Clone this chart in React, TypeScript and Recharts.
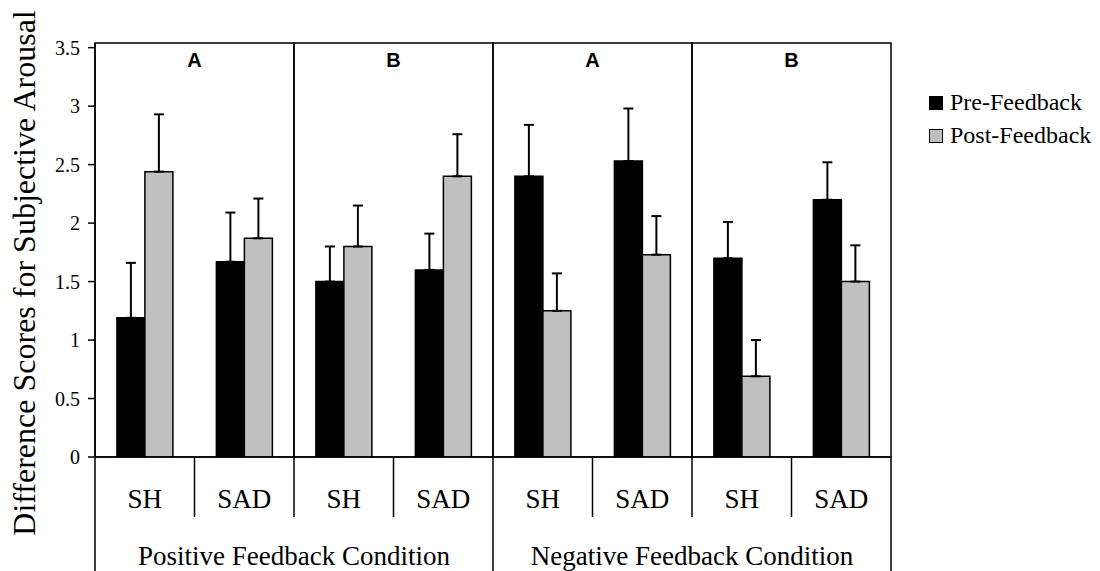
import { Bar, BarChart, ErrorBar, Label, Legend, ReferenceArea, XAxis, YAxis } from "recharts";

const SERIF = '"Liberation Serif", "Times New Roman", serif';
const SANS = '"Liberation Sans", Arial, sans-serif';

const CATEGORY_KEYS = [
  "pos-a-sh",
  "pos-a-sad",
  "pos-b-sh",
  "pos-b-sad",
  "neg-a-sh",
  "neg-a-sad",
  "neg-b-sh",
  "neg-b-sad",
];
const CATEGORY_LABELS = ["SH", "SAD", "SH", "SAD", "SH", "SAD", "SH", "SAD"];
const PANEL_LABELS = ["A", "B", "A", "B"];
const CONDITION_LABELS = ["Positive Feedback Condition", "Negative Feedback Condition"];

const PRE_FEEDBACK = [1.19, 1.67, 1.5, 1.6, 2.4, 2.53, 1.7, 2.2];
const PRE_ERROR = [0.47, 0.42, 0.3, 0.31, 0.44, 0.45, 0.31, 0.32];
const POST_FEEDBACK = [2.44, 1.87, 1.8, 2.4, 1.25, 1.73, 0.69, 1.5];
const POST_ERROR = [0.49, 0.34, 0.35, 0.36, 0.32, 0.33, 0.31, 0.31];

const Y_TICKS = [0, 0.5, 1, 1.5, 2, 2.5, 3, 3.5];

const WIDTH = 1100;
const HEIGHT = 571;
const MARGIN = { top: 43, right: 209, bottom: 0, left: 0 };
const Y_AXIS_W = 95;
const X_AXIS_H = 114;
const BAND = (WIDTH - MARGIN.left - MARGIN.right - Y_AXIS_W) / CATEGORY_KEYS.length;

const data = CATEGORY_KEYS.map((key, i) => ({
  key,
  pre: PRE_FEEDBACK[i],
  post: POST_FEEDBACK[i],
  preErr: [0, PRE_ERROR[i]],
  postErr: [0, POST_ERROR[i]],
}));

// category names, table cell borders and the condition labels under the axis
function BottomTick(props: any) {
  const { x, y, index } = props;
  const half = BAND / 2;
  const last = index % 4 === 3;
  return (
    <g>
      <text x={x} y={y + 51} textAnchor="middle" fontSize={27} fontFamily={SERIF} fill="#000">
        {CATEGORY_LABELS[index]}
      </text>
      {index === 0 && (
        <line x1={x - half} x2={x - half} y1={y} y2={y + X_AXIS_H} stroke="#000" strokeWidth={1.5} />
      )}
      <line
        x1={x + half}
        x2={x + half}
        y1={y}
        y2={last ? y + X_AXIS_H : y + 60}
        stroke="#000"
        strokeWidth={1.5}
      />
      {index % 4 === 1 && (
        <text x={x + half} y={y + 108} textAnchor="middle" fontSize={27} fontFamily={SERIF} fill="#000">
          {CONDITION_LABELS[Math.floor(index / 4)]}
        </text>
      )}
    </g>
  );
}

function AxisTitle(props: any) {
  const vb = props.viewBox ?? { x: 0, y: MARGIN.top, height: 414 };
  const cx = vb.x + 35;
  const cy = vb.y + vb.height / 2 + 23;
  return (
    <text
      x={cx}
      y={cy}
      transform={`rotate(-90 ${cx} ${cy})`}
      textAnchor="middle"
      fontSize={32}
      fontFamily={SERIF}
      fill="#000"
    >
      Difference Scores for Subjective Arousal
    </text>
  );
}

function LegendBox() {
  const items = [
    { name: "Pre-Feedback", fill: "#000" },
    { name: "Post-Feedback", fill: "#c0c0c0" },
  ];
  return (
    <div style={{ fontFamily: SERIF, fontSize: 24, color: "#000" }}>
      {items.map((it) => (
        <div key={it.name} style={{ display: "flex", alignItems: "center", height: 33, whiteSpace: "nowrap" }}>
          <span
            style={{
              width: 12,
              height: 12,
              background: it.fill,
              border: "1px solid #000",
              marginRight: 7,
              display: "inline-block",
            }}
          />
          {it.name}
        </div>
      ))}
    </div>
  );
}

export default function App() {
  return (
    <div style={{ position: "absolute", left: 0, top: 0, width: WIDTH, height: HEIGHT, background: "#fff" }}>
      <BarChart width={WIDTH} height={HEIGHT} data={data} margin={MARGIN} barCategoryGap="22%" barGap={0}>
        {PANEL_LABELS.map((panel, g) => (
          <ReferenceArea
            key={g}
            x1={CATEGORY_KEYS[2 * g]}
            x2={CATEGORY_KEYS[2 * g + 1]}
            stroke="#000"
            strokeWidth={1.5}
            fill="none"
            label={{
              value: panel,
              position: "insideTop",
              offset: 10,
              fill: "#000",
              fontSize: 20,
              fontWeight: "bold",
              fontFamily: SANS,
            }}
          />
        ))}
        <XAxis
          dataKey="key"
          height={X_AXIS_H}
          interval={0}
          tickLine={false}
          tickSize={0}
          tickMargin={0}
          axisLine={{ stroke: "#000", strokeWidth: 1.5 }}
          tick={BottomTick}
        />
        <YAxis
          width={Y_AXIS_W}
          domain={[0, 3.54]}
          allowDataOverflow
          ticks={Y_TICKS}
          interval={0}
          tickSize={7}
          tickMargin={8}
          tickLine={{ stroke: "#000", strokeWidth: 1.5 }}
          axisLine={{ stroke: "#000", strokeWidth: 1.5 }}
          tick={{ fill: "#000", fontSize: 20, fontFamily: SERIF }}
        >
          <Label content={AxisTitle} />
        </YAxis>
        <Legend
          layout="vertical"
          align="center"
          verticalAlign="middle"
          wrapperStyle={{ left: 929, top: 86, width: 171 }}
          content={LegendBox}
        />
        <Bar dataKey="pre" name="Pre-Feedback" fill="#000" stroke="#000" strokeWidth={1.5} isAnimationActive={false}>
          <ErrorBar dataKey="preErr" direction="y" width={5} stroke="#000" strokeWidth={2} />
        </Bar>
        <Bar dataKey="post" name="Post-Feedback" fill="#c0c0c0" stroke="#000" strokeWidth={1.5} isAnimationActive={false}>
          <ErrorBar dataKey="postErr" direction="y" width={5} stroke="#000" strokeWidth={2} />
        </Bar>
      </BarChart>
    </div>
  );
}
